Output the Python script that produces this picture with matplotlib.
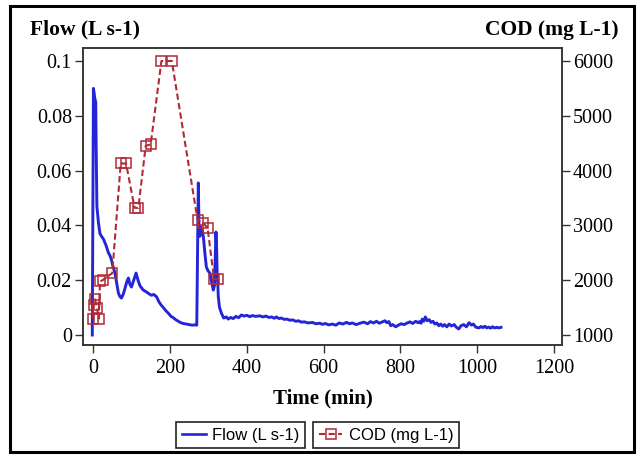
import matplotlib.pyplot as plt
from matplotlib.patches import Rectangle
from matplotlib.lines import Line2D

# Flow readings (time in min, flow in L s-1)
flow_time = [-2, 0, 1, 3, 5, 7, 8, 10, 14, 18, 22, 27, 33, 40, 44, 48, 52, 57, 62, 66,
             70, 74, 79, 83, 88, 92, 96, 100, 106, 112, 117, 122, 130, 139, 146, 152,
             158, 165, 172, 178, 183, 190, 197, 203, 208, 215, 222, 228, 235, 242, 250,
             258, 265, 270, 272, 274, 276, 278, 280, 282, 285, 288, 291, 295, 299, 304,
             308, 313, 316, 318, 320, 322, 323, 325, 326, 329, 334, 340, 347, 352, 358,
             365, 372, 379, 386, 393, 400, 408, 415, 423, 434, 442, 450, 458, 465, 472,
             477, 484, 490, 498, 505, 512, 520, 528, 535, 542, 550, 560, 571, 580, 590,
             597, 605, 613, 623, 632, 641, 650, 660, 668, 675, 685, 695, 705, 715, 722,
             730, 738, 745, 752, 760, 765, 770, 775, 780, 788, 795, 802, 810, 818, 825,
             832, 840, 846, 850, 854, 857, 861, 865, 870, 875, 880, 885, 890, 895, 900,
             905, 910, 915, 921, 927, 933, 940, 946, 952, 958, 965, 972, 979, 985, 990,
             997, 1005, 1010, 1015, 1020, 1025, 1030, 1035, 1040, 1045, 1051, 1057, 1062]
flow = [0.0000, 0.0600, 0.0900, 0.0880, 0.0860, 0.0850, 0.0700, 0.0470, 0.0410, 0.0370,
        0.0360, 0.0350, 0.0330, 0.0300, 0.0290, 0.0274, 0.0250, 0.0226, 0.0185, 0.0153,
        0.0140, 0.0135, 0.0150, 0.0170, 0.0195, 0.0208, 0.0185, 0.0175, 0.0200, 0.0226,
        0.0200, 0.0180, 0.0165, 0.0157, 0.0150, 0.0145, 0.0148, 0.0140, 0.0120, 0.0108,
        0.0100, 0.0088, 0.0078, 0.0068, 0.0064, 0.0056, 0.0050, 0.0045, 0.0042, 0.0040,
        0.0038, 0.0036, 0.0037, 0.0036, 0.0300, 0.0555, 0.0380, 0.0360, 0.0395, 0.0370,
        0.0380, 0.0347, 0.0300, 0.0248, 0.0235, 0.0226, 0.0200, 0.0164, 0.0180, 0.0285,
        0.0376, 0.0300, 0.0226, 0.0180, 0.0140, 0.0102, 0.0080, 0.0062, 0.0066, 0.0058,
        0.0064, 0.0060, 0.0068, 0.0063, 0.0073, 0.0069, 0.0072, 0.0067, 0.0071, 0.0068,
        0.0070, 0.0066, 0.0069, 0.0064, 0.0066, 0.0061, 0.0066, 0.0060, 0.0062, 0.0057,
        0.0058, 0.0054, 0.0055, 0.0050, 0.0052, 0.0047, 0.0048, 0.0044, 0.0046, 0.0041,
        0.0043, 0.0039, 0.0042, 0.0037, 0.0040, 0.0036, 0.0044, 0.0040, 0.0046, 0.0041,
        0.0044, 0.0038, 0.0043, 0.0047, 0.0041, 0.0049, 0.0044, 0.0050, 0.0043, 0.0047,
        0.0052, 0.0045, 0.0049, 0.0034, 0.0038, 0.0030, 0.0036, 0.0041, 0.0038, 0.0044,
        0.0048, 0.0042, 0.0050, 0.0045, 0.0049, 0.0043, 0.0058, 0.0050, 0.0066, 0.0052,
        0.0056, 0.0046, 0.0050, 0.0040, 0.0044, 0.0034, 0.0040, 0.0032, 0.0038, 0.0030,
        0.0040, 0.0033, 0.0038, 0.0028, 0.0022, 0.0034, 0.0038, 0.0030, 0.0045, 0.0036,
        0.0040, 0.0028, 0.0026, 0.0031, 0.0027, 0.0032, 0.0026, 0.0029, 0.0025, 0.0030,
        0.0026, 0.0028, 0.0026, 0.0028]

# COD readings (time in min, COD in mg L-1)
cod_time = [0, 2, 5, 10, 15, 18, 25, 50, 72, 86, 108, 118, 137, 150, 178, 205, 272, 285,
            298, 315, 326]
cod = [1300, 1550, 1650, 1500, 1300, 1980, 2000, 2130, 4130, 4130, 3320, 3320, 4450,
       4480, 6000, 6000, 3100, 3050, 2960, 2020, 2020]

blue = "#2424d8"
red = "#b02a35"

plt.rcParams["font.family"] = "Liberation Serif"

fig = plt.figure(figsize=(6.39, 4.58), dpi=100)
ax = fig.add_axes([0.130, 0.247, 0.749, 0.648])
ax2 = ax.twinx()

ax.plot(flow_time, flow, color=blue, lw=2.1, zorder=2)
ax2.plot(cod_time, cod, color=red, lw=1.5, ls=(0, (3, 1.6)), marker="s",
         ms=7, mfc="none", mec=red, mew=1.1)

ax.set_xlim(-26, 1220)
ax.set_ylim(-0.0036, 0.1047)
ax2.set_ylim(820, 6235)
ax.set_xticks(range(0, 1201, 200))
ax.set_yticks([0, 0.02, 0.04, 0.06, 0.08, 0.1])
ax.set_yticklabels(["0", "0.02", "0.04", "0.06", "0.08", "0.1"])
ax2.set_yticks(range(1000, 6001, 1000))

for a in (ax, ax2):
    a.tick_params(labelsize=14.5, length=6, width=1, color="#333333", pad=2)
    for s in a.spines.values():
        s.set_color("#333333")
        s.set_linewidth(1.1)
ax.tick_params(axis="x", pad=4)

ax.set_xlabel("Time (min)", fontsize=15, fontweight="bold", labelpad=8)
fig.text(0.047, 0.935, "Flow (L s-1)", fontsize=15.5, fontweight="bold", va="center")
fig.text(0.968, 0.935, "COD (mg L-1)", fontsize=15.5, fontweight="bold", va="center", ha="right")

# two boxed legends below the plot
h1 = Line2D([], [], color=blue, lw=1.9)
h2 = Line2D([], [], color=red, lw=1.5, ls=(0, (3, 1.6)), marker="s", ms=7,
            mfc="none", mec=red, mew=1.1)
leg_kw = dict(fancybox=False, edgecolor="#222222", framealpha=1,
              prop={"family": "Liberation Sans", "size": 12},
              handlelength=1.4, handletextpad=0.4, borderpad=0.35, borderaxespad=0)
l1 = fig.legend([h1], ["Flow (L s-1)"], loc="center right",
                bbox_to_anchor=(0.478, 0.050), **leg_kw)
l2 = fig.legend([h2], ["COD (mg L-1)"], loc="center left",
                bbox_to_anchor=(0.490, 0.050), **leg_kw)
for l in (l1, l2):
    l.get_frame().set_linewidth(1.2)

# outer frame around the whole figure
fig.patches.append(Rectangle((0.016, 0.013), 0.976, 0.974, transform=fig.transFigure,
                             fill=False, edgecolor="black", lw=2.2))

fig.savefig("out.png", dpi=100)
